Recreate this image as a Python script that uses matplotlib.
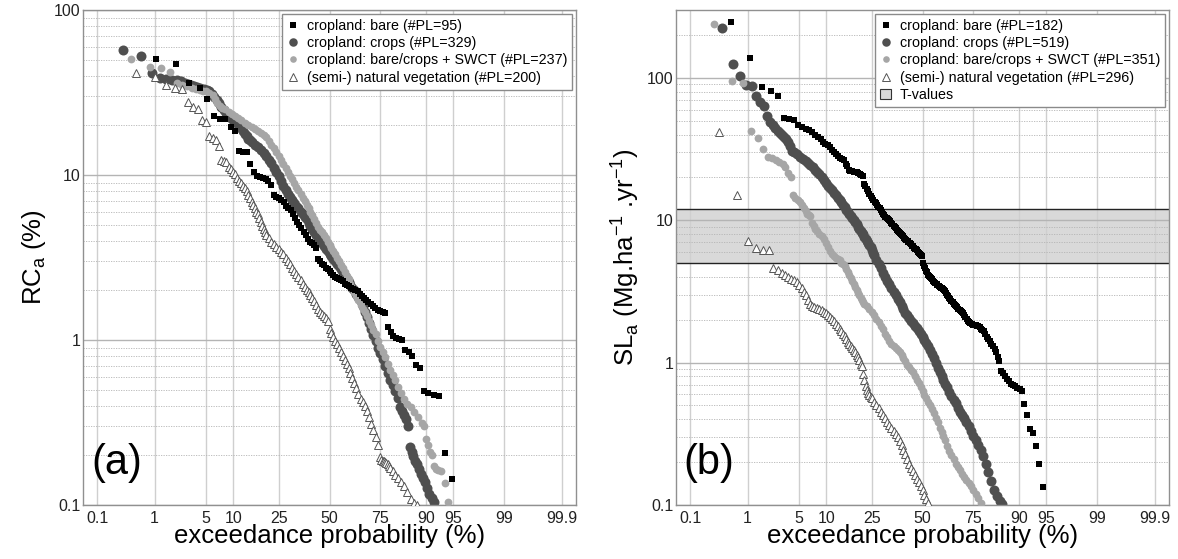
import math
import numpy as np
import matplotlib
matplotlib.use("Agg")
import matplotlib.pyplot as plt
from matplotlib.ticker import FixedLocator, NullLocator, NullFormatter, FuncFormatter, LogLocator
from matplotlib.patches import Patch

plt.rcParams['font.family'] = ['Liberation Sans', 'DejaVu Sans']
plt.rcParams['mathtext.fontset'] = 'custom'
plt.rcParams['mathtext.rm'] = 'Liberation Sans'

# ---------------- data: panel (a) RC_a (%) ----------------
a_bare_p = [1.04, 2.08, 3.1, 4.2, 5.2, 6.25, 7.3, 8.3, 9.4, 10.4, 11.5, 12.5, 13.5, 14.6, 15.6, 16.7,
            17.7, 18.75, 19.8, 20.8, 21.9, 22.9, 24.0, 25.0, 26.0, 27.1, 28.1, 29.2, 30.2, 31.25, 32.3,
            33.3, 34.4, 35.4, 36.5, 37.5, 38.5, 39.6, 40.6, 41.7, 42.7, 43.75, 44.8, 45.8, 46.9, 47.9,
            49.0, 50.0, 51.0, 52.1, 53.1, 54.2, 55.2, 56.25, 57.3, 58.3, 59.4, 60.4, 61.5, 62.5, 63.5,
            64.6, 65.6, 66.7, 67.7, 68.75, 69.8, 70.8, 71.9, 72.9, 74.0, 75.0, 76.0, 77.1, 78.1, 79.2,
            80.2, 81.25, 82.3, 83.3, 84.4, 85.4, 86.5, 87.5, 88.5, 89.6, 90.6, 91.7, 92.7, 93.75, 94.8]
a_bare_v = [50.7, 46.8, 35.9, 33.6, 29.0, 22.7, 21.9, 21.7, 19.6, 18.6, 13.9, 13.8, 13.7, 11.6, 10.5, 9.8,
            9.7, 9.6, 9.4, 9.2, 8.7, 7.6, 7.4, 7.3, 7.1, 6.9, 6.5, 6.3, 6.1, 5.8, 5.5,
            5.2, 5.0, 4.8, 4.5, 4.3, 4.1, 3.95, 3.85, 3.75, 3.6, 3.1, 3.0, 2.9, 2.85, 2.75,
            2.68, 2.62, 2.55, 2.48, 2.42, 2.38, 2.33, 2.3, 2.27, 2.2, 2.15, 2.12, 2.08, 2.05, 2.02,
            1.97, 1.9, 1.85, 1.8, 1.74, 1.7, 1.66, 1.6, 1.57, 1.53, 1.5, 1.47, 1.45, 1.2, 1.12,
            1.06, 1.03, 1.01, 1.0, 0.87, 0.84, 0.8, 0.71, 0.68, 0.49, 0.475, 0.465, 0.46, 0.208, 0.144]

a_crops_p = [0.3, 0.61, 0.91, 1.2, 1.5, 1.8, 2.1, 2.4, 2.7, 3.0, 3.3, 3.6, 3.9, 4.3, 4.7, 5.1, 5.5, 5.9,
             6.3, 6.7, 7.1, 7.5, 8.0, 8.5, 9.0, 9.5, 10, 10.5, 11, 11.5, 12, 12.5, 13, 13.5, 14, 14.5,
             15, 16, 17, 18, 19, 20, 21, 22, 23, 24, 25, 26, 27, 28, 29, 30, 31, 32, 33, 34, 35, 36,
             37, 38, 39, 40, 41, 42, 43, 44, 45, 46, 47, 48, 49, 50, 51, 52, 53, 54, 55, 56, 57, 58,
             59, 60, 61, 62, 63, 64, 65, 66, 67, 68, 69, 70, 71, 72, 73, 74, 75, 76, 77, 78, 79, 80,
             81, 82, 82.5, 83.2, 84, 84.6, 85.2, 85.8, 86.3, 86.8, 87.3, 87.8, 88.3, 88.8, 89.3, 89.8,
             90.3, 90.8, 91.3, 91.7]
a_crops_v = [57.2, 52.6, 41.3, 38.9, 38.3, 37.8, 37.4, 37.0, 36.3, 35.6, 35.0, 34.5, 34.0, 33.6, 33.0,
             32.6, 32.1, 31.0, 29.9, 28.6, 27.2, 26.0, 24.6, 23.6, 22.8, 22.2, 21.6, 21.0, 20.6, 20.1,
             19.2, 18.4, 17.8, 17.2, 16.6, 16.2, 15.8, 15.2, 14.7, 14.2, 13.6, 13.1, 12.4, 11.8, 11.0,
             10.5, 9.9, 9.2, 8.6, 8.1, 7.7, 7.4, 7.1, 6.8, 6.5, 6.3, 6.0, 5.8, 5.6, 5.4, 5.1, 4.9, 4.7,
             4.5, 4.3, 4.15, 4.0, 3.85, 3.7, 3.57, 3.45, 3.33, 3.22, 3.1, 3.0, 2.9, 2.8, 2.68, 2.56,
             2.45, 2.35, 2.25, 2.16, 2.08, 2.0, 1.91, 1.83, 1.72, 1.6, 1.48, 1.38, 1.27, 1.17, 1.07,
             0.98, 0.9, 0.83, 0.77, 0.7, 0.63, 0.57, 0.53, 0.49, 0.445, 0.39, 0.37, 0.35, 0.33, 0.3,
             0.226, 0.21, 0.197, 0.186, 0.178, 0.165, 0.155, 0.145, 0.137, 0.127, 0.117, 0.11, 0.104]

a_swct_p = [0.42, 0.84, 1.26, 1.68, 2.1, 2.5, 2.9, 3.4, 3.8, 4.2, 4.6, 5.0, 5.5, 6.0, 6.4, 6.8, 7.2, 7.7,
            8.3, 9.0, 9.7, 10.4, 11.2, 12, 13, 14, 15, 16, 17, 18, 19, 20, 21, 22, 23, 24, 25, 26, 27,
            28, 29, 30, 31, 32, 33, 34, 35, 36, 37, 38, 39, 40, 41, 42, 43, 44, 45, 46, 47, 48, 49, 50,
            51, 52, 53, 54, 55, 56, 57, 58, 59, 60, 61, 62, 63, 64, 65, 66, 67, 68, 69, 70, 71, 72, 73,
            74, 75, 76, 77, 78, 79, 80, 81, 82, 83, 84, 85, 86, 87, 88, 89, 89.5, 90, 90.5, 91, 91.3,
            91.7, 92.1, 92.6, 93.1, 93.8, 94.3]
a_swct_v = [50.2, 45.1, 44.5, 42.3, 35.9, 35.2, 34.5, 33.6, 33.0, 32.7, 32.4, 32.2, 31.6, 30.6, 29.0,
            27.2, 26.2, 25.6, 25.0, 24.1, 23.5, 22.9, 22.2, 21.5, 20.8, 20.2, 19.6, 19.0, 18.5, 17.9,
            17.4, 16.9, 16.0, 15.2, 14.5, 13.7, 13.0, 12.3, 11.7, 11.1, 10.5, 9.9, 9.4, 8.9, 8.5, 8.1,
            7.7, 7.3, 7.0, 6.6, 6.3, 6.0, 5.7, 5.4, 5.1, 4.85, 4.65, 4.5, 4.35, 4.15, 3.95, 3.75, 3.6,
            3.45, 3.3, 3.15, 3.0, 2.86, 2.72, 2.58, 2.45, 2.33, 2.2, 2.07, 1.95, 1.85, 1.75, 1.64, 1.55,
            1.47, 1.4, 1.31, 1.23, 1.15, 1.08, 0.99, 0.91, 0.85, 0.79, 0.72, 0.66, 0.61, 0.57, 0.52,
            0.48, 0.44, 0.41, 0.39, 0.365, 0.34, 0.315, 0.3, 0.25, 0.23, 0.21, 0.2, 0.172, 0.166, 0.162,
            0.16, 0.136, 0.105]

a_nat_p = [0.5, 1.0, 1.5, 2.0, 2.5, 3.0, 3.5, 4.0, 4.5, 5.0, 5.5, 6.0, 6.5, 7.0, 7.5, 8.0, 8.5, 9.0, 9.5,
           10, 10.5, 11, 11.5, 12, 12.5, 13, 13.5, 14, 14.5, 15, 15.5, 16, 16.5, 17, 17.5, 18, 18.5, 19,
           19.5, 20, 21, 22, 23, 24, 25, 26, 27, 28, 29, 30, 31, 32, 33, 34, 35, 36, 37, 38, 39, 40,
           41, 42, 43, 44, 45, 46, 47, 48, 49, 50, 51, 52, 53, 54, 55, 56, 57, 58, 59, 60, 61, 62, 63,
           64, 65, 66, 67, 68, 69, 70, 71, 72, 73, 74, 75, 75.5, 76, 76.5, 77, 77.5, 78, 78.5, 79, 80,
           81, 82, 83, 84, 85, 86, 87, 87.7]
a_nat_v = [41.7, 39.3, 34.9, 33.8, 33.0, 27.7, 25.9, 25.0, 21.5, 21.0, 17.2, 16.7, 16.2, 15.0, 12.4,
           12.2, 12.0, 11.2, 10.8, 10.4, 10.1, 9.6, 9.2, 8.9, 8.6, 8.3, 8.0, 7.6, 7.3, 6.9, 6.6, 6.3,
           6.0, 5.8, 5.5, 5.2, 4.9, 4.7, 4.5, 4.35, 4.15, 3.95, 3.8, 3.65, 3.55, 3.42, 3.3, 3.15, 3.0,
           2.87, 2.74, 2.62, 2.5, 2.4, 2.3, 2.2, 2.1, 2.02, 1.95, 1.87, 1.79, 1.72, 1.62, 1.54, 1.48,
           1.44, 1.4, 1.36, 1.31, 1.16, 1.1, 1.04, 0.99, 0.94, 0.89, 0.85, 0.8, 0.76, 0.72, 0.68, 0.63,
           0.59, 0.55, 0.51, 0.47, 0.44, 0.42, 0.4, 0.37, 0.34, 0.31, 0.285, 0.26, 0.23, 0.195, 0.188,
           0.186, 0.185, 0.183, 0.18, 0.178, 0.172, 0.168, 0.16, 0.153, 0.145, 0.138, 0.13, 0.12,
           0.109, 0.103, 0.1]

# ---------------- data: panel (b) SL_a (Mg/ha/yr) ----------------
b_bare_p = [0.55, 1.09, 1.64, 2.19, 2.73, 3.28, 3.83, 4.37, 4.92, 5.46, 6.0, 6.56, 7.1, 7.65, 8.2, 8.74,
            9.3, 9.84, 10.4, 10.9, 11.5, 12.0, 12.6, 13.1, 13.7, 14.2, 14.8, 15.3, 15.8, 16.4, 16.9,
            17.5, 18.0, 18.6, 19.1, 19.7, 20.2, 20.8, 21.3, 21.9, 22.4, 23.0, 23.5, 24.0, 24.6, 25.1,
            25.7, 26.2, 26.8, 27.3, 27.9, 28.4, 29.0, 29.5, 30.0, 30.6, 31.1, 31.7, 32.2, 32.8, 33.3,
            33.9, 34.4, 35.0, 35.5, 36.1, 36.6, 37.2, 37.7, 38.3, 38.8, 39.3, 39.9, 40.4, 41.0, 41.5,
            42.1, 42.6, 43.2, 43.7, 44.3, 44.8, 45.4, 45.9, 46.4, 47.0, 47.5, 48.1, 48.6, 49.2, 49.7,
            50.3, 50.8, 51.4, 51.9, 52.5, 53.0, 53.6, 54.1, 54.6, 55.2, 55.7, 56.3, 56.8, 57.4, 57.9,
            58.5, 59.0, 59.6, 60.1, 60.7, 61.2, 61.7, 62.3, 62.8, 63.4, 63.9, 64.5, 65.0, 65.6, 66.1,
            66.7, 67.2, 67.8, 68.3, 68.9, 69.4, 69.9, 70.5, 71.0, 71.6, 72.1, 72.7, 73.2, 73.8, 74.3,
            74.9, 75.4, 76.0, 76.5, 77.0, 77.6, 78.1, 78.7, 79.2, 79.8, 80.3, 80.9, 81.4, 82.0, 82.5,
            83.1, 83.6, 84.2, 84.7, 85.2, 85.8, 86.3, 86.9, 87.4, 88.0, 88.5, 89.1, 89.6, 90.2, 90.7,
            91.26, 91.8, 92.35, 92.9, 93.44, 93.99, 94.54]
b_bare_v = [248, 139, 86, 81.5, 74.5, 52.6, 51.8, 50.5, 47.0, 45.3, 43.8, 43.0, 41.8, 39.8, 38.3, 37.3,
            35.5, 34.2, 33.6, 32.8, 31.0, 30.2, 29.3, 28.2, 27.4, 27.1, 26.3, 25.0, 24.0, 22.6, 22.3,
            22.1, 22.0, 21.9, 21.7, 21.4, 21.1, 20.8, 20.5, 18.1, 17.4, 16.6, 16.0, 15.3, 14.8, 14.3,
            13.9, 13.5, 13.2, 12.8, 12.4, 12.1, 11.8, 11.4, 11.1, 10.9, 10.6, 10.4, 10.2, 10.0, 9.85,
            9.6, 9.4, 9.15, 8.95, 8.8, 8.6, 8.4, 8.25, 8.1, 7.95, 7.85, 7.7, 7.5, 7.35, 7.25,
            7.15, 7.05, 6.95, 6.8, 6.65, 6.55, 6.4, 6.3, 6.25, 6.15, 6.0, 5.9, 5.8, 5.7, 5.6,
            5.0, 4.8, 4.6, 4.4, 4.3, 4.15, 4.05, 4.0, 3.9, 3.85, 3.75, 3.7, 3.65, 3.58, 3.52,
            3.48, 3.42, 3.36, 3.32, 3.28, 3.25, 3.2, 3.1, 3.0, 2.92, 2.85, 2.78, 2.72, 2.66, 2.6,
            2.55, 2.5, 2.45, 2.4, 2.35, 2.3, 2.27, 2.24, 2.17, 2.1, 2.03, 1.97, 1.93, 1.9, 1.87,
            1.85, 1.84, 1.83, 1.82, 1.81, 1.77, 1.73, 1.7, 1.66, 1.58, 1.52, 1.46, 1.41, 1.36, 1.31,
            1.25, 1.19, 1.1, 1.03, 0.88, 0.84, 0.8, 0.77, 0.74, 0.71, 0.695, 0.68, 0.665, 0.65, 0.636,
            0.514, 0.431, 0.344, 0.323, 0.26, 0.194, 0.133]

b_crops_p = [0.385, 0.58, 0.77, 0.96, 1.15, 1.35, 1.54, 1.73, 1.92, 2.12, 2.31, 2.5, 2.7, 2.9, 3.1, 3.3,
             3.5, 3.7, 3.9, 4.1, 4.4, 4.8, 5.2, 5.6, 6.0, 6.4, 6.8, 7.2, 7.6, 8.0, 8.5, 9.0, 9.5, 10.0,
             10.5, 11.0, 11.5, 12.0, 12.5, 13.0, 13.5, 14.0, 14.5, 15.0, 15.5, 16.0, 16.5, 17.0, 17.5,
             18.0, 18.5, 19.0, 19.5, 20.0, 20.5, 21.0, 21.5, 22.0, 22.5, 23.0, 23.5, 24.0, 24.5, 25.0,
             25.5, 26, 27, 28, 29, 30, 31, 32, 33, 34, 35, 36, 37, 38, 39, 40, 41, 42, 43, 44, 45, 46,
             47, 48, 49, 50, 51, 52, 53, 54, 55, 56, 57, 58, 59, 60, 61, 62, 63, 64, 65, 66, 67, 68,
             69, 70, 71, 72, 73, 74, 75, 76, 77, 78, 79, 80, 81, 82, 83, 84, 85, 85.5]
b_crops_v = [226, 126, 102.6, 88.8, 87.4, 74.4, 68.0, 63.0, 54.0, 49.0, 46.5, 44.3, 42.6, 41.0, 39.5,
             38.4, 37.0, 35.5, 33.0, 30.8, 30.1, 29.0, 27.8, 27.0, 26.2, 25.4, 24.6, 23.6, 22.7, 22.0,
             21.0, 20.0, 19.1, 18.3, 17.5, 16.9, 16.2, 15.6, 15.0, 14.4, 13.9, 13.4, 12.9, 12.3, 11.8,
             11.4, 11.1, 10.7, 10.3, 10.0, 9.7, 9.35, 9.0, 8.7, 8.4, 8.2, 7.95, 7.65, 7.35, 7.1, 6.95,
             6.7, 6.45, 6.15, 5.9, 5.7, 5.3, 4.95, 4.6, 4.25, 4.0, 3.75, 3.55, 3.35, 3.15, 2.98, 2.8,
             2.65, 2.5, 2.38, 2.25, 2.15, 2.05, 1.97, 1.9, 1.82, 1.74, 1.66, 1.59, 1.52, 1.45, 1.38,
             1.3, 1.22, 1.15, 1.07, 0.99, 0.92, 0.855, 0.8, 0.75, 0.71, 0.67, 0.62, 0.58, 0.55, 0.52,
             0.48, 0.45, 0.43, 0.41, 0.385, 0.36, 0.33, 0.305, 0.285, 0.265, 0.245, 0.22, 0.195, 0.17,
             0.148, 0.128, 0.115, 0.107, 0.101]

b_swct_p = [0.28, 0.57, 0.85, 1.14, 1.42, 1.70, 1.99, 2.27, 2.56, 2.84, 3.13, 3.41, 3.7, 3.98, 4.26,
            4.55, 4.83, 5.1, 5.4, 5.7, 6.0, 6.25, 6.5, 6.8, 7.1, 7.4, 7.7, 8.0, 8.5, 9.0, 9.5, 10.0,
            10.5, 11.0, 11.5, 12.0, 12.5, 13.0, 13.5, 14, 14.5, 15, 15.5, 16, 16.5, 17, 17.5, 18, 18.5,
            19, 19.5, 20, 20.5, 21, 21.5, 22, 23, 24, 25, 26, 27, 28, 29, 30, 31, 32, 33, 34, 35, 36,
            37, 38, 39, 40, 41, 42, 43, 44, 45, 46, 47, 48, 49, 50, 51, 52, 53, 54, 55, 56, 57, 58, 59,
            60, 61, 62, 63, 64, 65, 66, 67, 68, 69, 70, 71, 72, 73, 74, 75, 76, 77, 78]
b_swct_v = [239, 94.7, 92.2, 42.5, 38.1, 31.9, 28.0, 27.2, 26.3, 25.5, 24.9, 23.5, 21.5, 20.0, 15.1,
            14.4, 13.9, 13.5, 12.8, 12.2, 11.6, 11.1, 10.9, 10.8, 9.6, 9.1, 8.7, 8.4, 8.0, 7.7, 7.4,
            6.9, 6.5, 6.1, 5.8, 5.6, 5.45, 5.35, 5.25, 5.05, 4.9, 4.75, 4.55, 4.3, 4.1, 3.9, 3.72,
            3.55, 3.4, 3.25, 3.1, 2.97, 2.85, 2.75, 2.65, 2.58, 2.5, 2.38, 2.27, 2.15, 2.02, 1.92,
            1.82, 1.71, 1.6, 1.51, 1.43, 1.36, 1.3, 1.26, 1.22, 1.18, 1.13, 1.07, 1.02, 0.97, 0.93,
            0.89, 0.855, 0.81, 0.76, 0.72, 0.67, 0.63, 0.59, 0.56, 0.53, 0.5, 0.47, 0.44, 0.41, 0.38,
            0.345, 0.325, 0.305, 0.285, 0.26, 0.24, 0.225, 0.21, 0.195, 0.185, 0.175, 0.166, 0.158,
            0.15, 0.142, 0.135, 0.128, 0.12, 0.112, 0.104]

b_nat_p = [0.34, 0.67, 1.01, 1.35, 1.69, 2.03, 2.36, 2.7, 3.04, 3.38, 3.72, 4.05, 4.4, 4.73, 5.07, 5.4,
           5.75, 6.08, 6.42, 6.76, 7.1, 7.5, 8.0, 8.5, 9.0, 9.5, 10.0, 10.5, 11.0, 11.5, 12.0, 12.5,
           13.0, 13.5, 14.0, 14.5, 15.0, 15.5, 16.0, 16.5, 17.0, 17.5, 18.0, 18.5, 19.0, 19.5, 20.0,
           20.5, 21.0, 21.5, 22.0, 22.5, 23.0, 23.5, 24.0, 24.5, 25, 26, 27, 28, 29, 30, 31, 32, 33,
           34, 35, 36, 37, 38, 39, 40, 41, 42, 43, 44, 45, 46, 47, 48, 49, 50, 51, 52, 53]
b_nat_v = [42.0, 15.0, 7.1, 6.4, 6.2, 6.15, 4.6, 4.45, 4.25, 4.1, 3.98, 3.85, 3.78, 3.7, 3.5, 3.34,
           3.15, 3.0, 2.77, 2.6, 2.48, 2.45, 2.42, 2.38, 2.33, 2.28, 2.22, 2.16, 2.1, 2.03, 1.95, 1.88,
           1.8, 1.73, 1.66, 1.59, 1.53, 1.47, 1.4, 1.35, 1.31, 1.27, 1.23, 1.19, 1.14, 1.1, 1.04,
           0.98, 0.94, 0.83, 0.75, 0.68, 0.64, 0.61, 0.59, 0.575, 0.56, 0.53, 0.5, 0.48, 0.45, 0.43,
           0.41, 0.385, 0.365, 0.345, 0.33, 0.315, 0.3, 0.28, 0.263, 0.245, 0.23, 0.21, 0.195, 0.182,
           0.172, 0.162, 0.153, 0.145, 0.137, 0.128, 0.118, 0.11, 0.104]

a_labels = ['cropland: bare (#PL=95)', 'cropland: crops (#PL=329)',
            'cropland: bare/crops + SWCT (#PL=237)', '(semi-) natural vegetation (#PL=200)']
b_labels = ['cropland: bare (#PL=182)', 'cropland: crops (#PL=519)',
            'cropland: bare/crops + SWCT (#PL=351)', '(semi-) natural vegetation (#PL=296)', 'T-values']
t_values = [5, 12]
x_ticks = [0.1, 1, 5, 10, 25, 50, 75, 90, 95, 99, 99.9]
x_ticklabels = ['0.1', '1', '5', '10', '25', '50', '75', '90', '95', '99', '99.9']

# ---------------- normal probability scale ----------------
_A = [-3.969683028665376e+01, 2.209460984245205e+02, -2.759285104469687e+02,
      1.383577518672690e+02, -3.066479806614716e+01, 2.506628277459239e+00]
_B = [-5.447609879822406e+01, 1.615858368580409e+02, -1.556989798598866e+02,
      6.680131188771972e+01, -1.328068155288572e+01]
_C = [-7.784894002430293e-03, -3.223964580411365e-01, -2.400758277161838e+00,
      -2.549732539343734e+00, 4.374664141464968e+00, 2.938163982698783e+00]
_D = [7.784695709041462e-03, 3.224671290700398e-01, 2.445134137142996e+00, 3.754408661907416e+00]


def _ppf(p):
    p = np.clip(np.asarray(p, dtype=float), 1e-12, 1 - 1e-12)
    plow = 0.02425
    q = p - 0.5
    r = q * q
    xc = (((((_A[0]*r + _A[1])*r + _A[2])*r + _A[3])*r + _A[4])*r + _A[5])*q / \
         (((((_B[0]*r + _B[1])*r + _B[2])*r + _B[3])*r + _B[4])*r + 1)
    ql = np.sqrt(-2 * np.log(np.minimum(p, 0.5)))
    xl = (((((_C[0]*ql + _C[1])*ql + _C[2])*ql + _C[3])*ql + _C[4])*ql + _C[5]) / \
         ((((_D[0]*ql + _D[1])*ql + _D[2])*ql + _D[3])*ql + 1)
    qu = np.sqrt(-2 * np.log(np.minimum(1 - p, 0.5)))
    xu = -(((((_C[0]*qu + _C[1])*qu + _C[2])*qu + _C[3])*qu + _C[4])*qu + _C[5]) / \
         ((((_D[0]*qu + _D[1])*qu + _D[2])*qu + _D[3])*qu + 1)
    return np.where(p < plow, xl, np.where(p > 1 - plow, xu, xc))


_erf = np.vectorize(math.erf, otypes=[float])


def fwd(pct):
    return _ppf(np.asarray(pct, dtype=float) / 100.0)


def inv(z):
    return 50.0 * (1.0 + _erf(np.asarray(z, dtype=float) / math.sqrt(2.0)))


# ---------------- styles ----------------
C_BARE = '#000000'
C_CROPS = '#4f4f4f'
C_SWCT = '#a6a6a6'
C_NAT_EDGE = '#555555'
GRID_X = '#cfcfcf'
GRID_Y = '#b4b4b4'

fig = plt.figure(figsize=(11.78, 5.59), dpi=100)
W, H = 1178.0, 559.0
ax1 = fig.add_axes([83 / W, 1 - 505 / H, 493 / W, 495 / H])
ax2 = fig.add_axes([676 / W, 1 - 505 / H, 493 / W, 495 / H])


def style_axis(ax, ylim):
    ax.set_xscale('function', functions=(fwd, inv))
    ax.set_yscale('log')
    ax.set_xlim(0.052, 99.948)
    ax.set_ylim(*ylim)
    ax.xaxis.set_major_locator(FixedLocator(x_ticks))
    ax.set_xticklabels(x_ticklabels)
    ax.xaxis.set_minor_locator(NullLocator())
    ax.yaxis.set_major_locator(LogLocator(base=10))
    ax.yaxis.set_minor_locator(LogLocator(base=10, subs=np.arange(2, 10)))
    ax.yaxis.set_major_formatter(FuncFormatter(lambda v, pos: '%g' % v))
    ax.yaxis.set_minor_formatter(NullFormatter())
    ax.set_axisbelow(True)
    ax.xaxis.grid(True, which='major', color=GRID_X, lw=1.0, ls='-')
    ax.yaxis.grid(True, which='major', color=GRID_Y, lw=1.0, ls='-')
    ax.yaxis.grid(True, which='minor', color=GRID_Y, lw=0.6, ls=(0, (1.5, 1.5)))
    ax.tick_params(axis='both', which='both', length=0, labelsize=11.5, colors='#222222')
    ax.tick_params(axis='y', pad=2)
    ax.tick_params(axis='x', pad=4)
    for s in ax.spines.values():
        s.set_color('#909090')
        s.set_linewidth(1.0)
    ax.set_xlabel('exceedance probability (%)', fontsize=18.5, labelpad=-1)


def draw(ax, bare, crops, swct, nat, labels):
    h_bare, = ax.plot(bare[0], bare[1], ls='none', marker='s', ms=5.0, mfc=C_BARE, mec=C_BARE,
                      mew=0, zorder=4, label=labels[0])
    h_crops, = ax.plot(crops[0], crops[1], ls='none', marker='o', ms=7.2, mfc=C_CROPS, mec=C_CROPS,
                       mew=0, zorder=2, label=labels[1])
    h_swct, = ax.plot(swct[0], swct[1], ls='none', marker='o', ms=5.6, mfc=C_SWCT, mec=C_SWCT,
                      mew=0, zorder=3, label=labels[2])
    h_nat, = ax.plot(nat[0], nat[1], ls='none', marker='^', ms=6.0, mfc='white', mec=C_NAT_EDGE,
                     mew=0.7, zorder=5, label=labels[3])
    return [h_bare, h_crops, h_swct, h_nat]


style_axis(ax1, (0.1, 100))
style_axis(ax2, (0.1, 300))

hs1 = draw(ax1, (a_bare_p, a_bare_v), (a_crops_p, a_crops_v), (a_swct_p, a_swct_v),
           (a_nat_p, a_nat_v), a_labels)
hs2 = draw(ax2, (b_bare_p, b_bare_v), (b_crops_p, b_crops_v), (b_swct_p, b_swct_v),
           (b_nat_p, b_nat_v), b_labels)

# T-values band
ax2.axhspan(t_values[0], t_values[1], color='#d9d9d9', zorder=0.2, lw=0)
for t in t_values:
    ax2.axhline(t, color='#222222', lw=1.0, zorder=1.5)

ax1.set_ylabel(r'RC$_\mathregular{a}$ (%)', fontsize=18.5, labelpad=4)
ax2.set_ylabel(r'SL$_\mathregular{a}$ (Mg.ha$^\mathregular{-1}$ .yr$^\mathregular{-1}$)',
               fontsize=18.5, labelpad=4)

ax1.text(0.018, 0.085, '(a)', transform=ax1.transAxes, fontsize=30, va='center', ha='left')
ax2.text(0.014, 0.085, '(b)', transform=ax2.transAxes, fontsize=30, va='center', ha='left')

leg_kw = dict(loc='upper right', bbox_to_anchor=(1.0, 1.0), borderaxespad=0.25, fontsize=10.3,
              frameon=True, fancybox=False, edgecolor='#8a8a8a', framealpha=1.0, markerscale=0.85,
              handlelength=0.8, handletextpad=0.6, labelspacing=0.24, borderpad=0.35)
l1 = ax1.legend(handles=hs1, **leg_kw)
t_patch = Patch(facecolor='#d9d9d9', edgecolor='#333333', lw=0.8, label=b_labels[4])
l2 = ax2.legend(handles=hs2 + [t_patch], **leg_kw)
for l in (l1, l2):
    l.get_frame().set_linewidth(1.0)
    l.set_zorder(10)

fig.savefig('out.png', dpi=100)
